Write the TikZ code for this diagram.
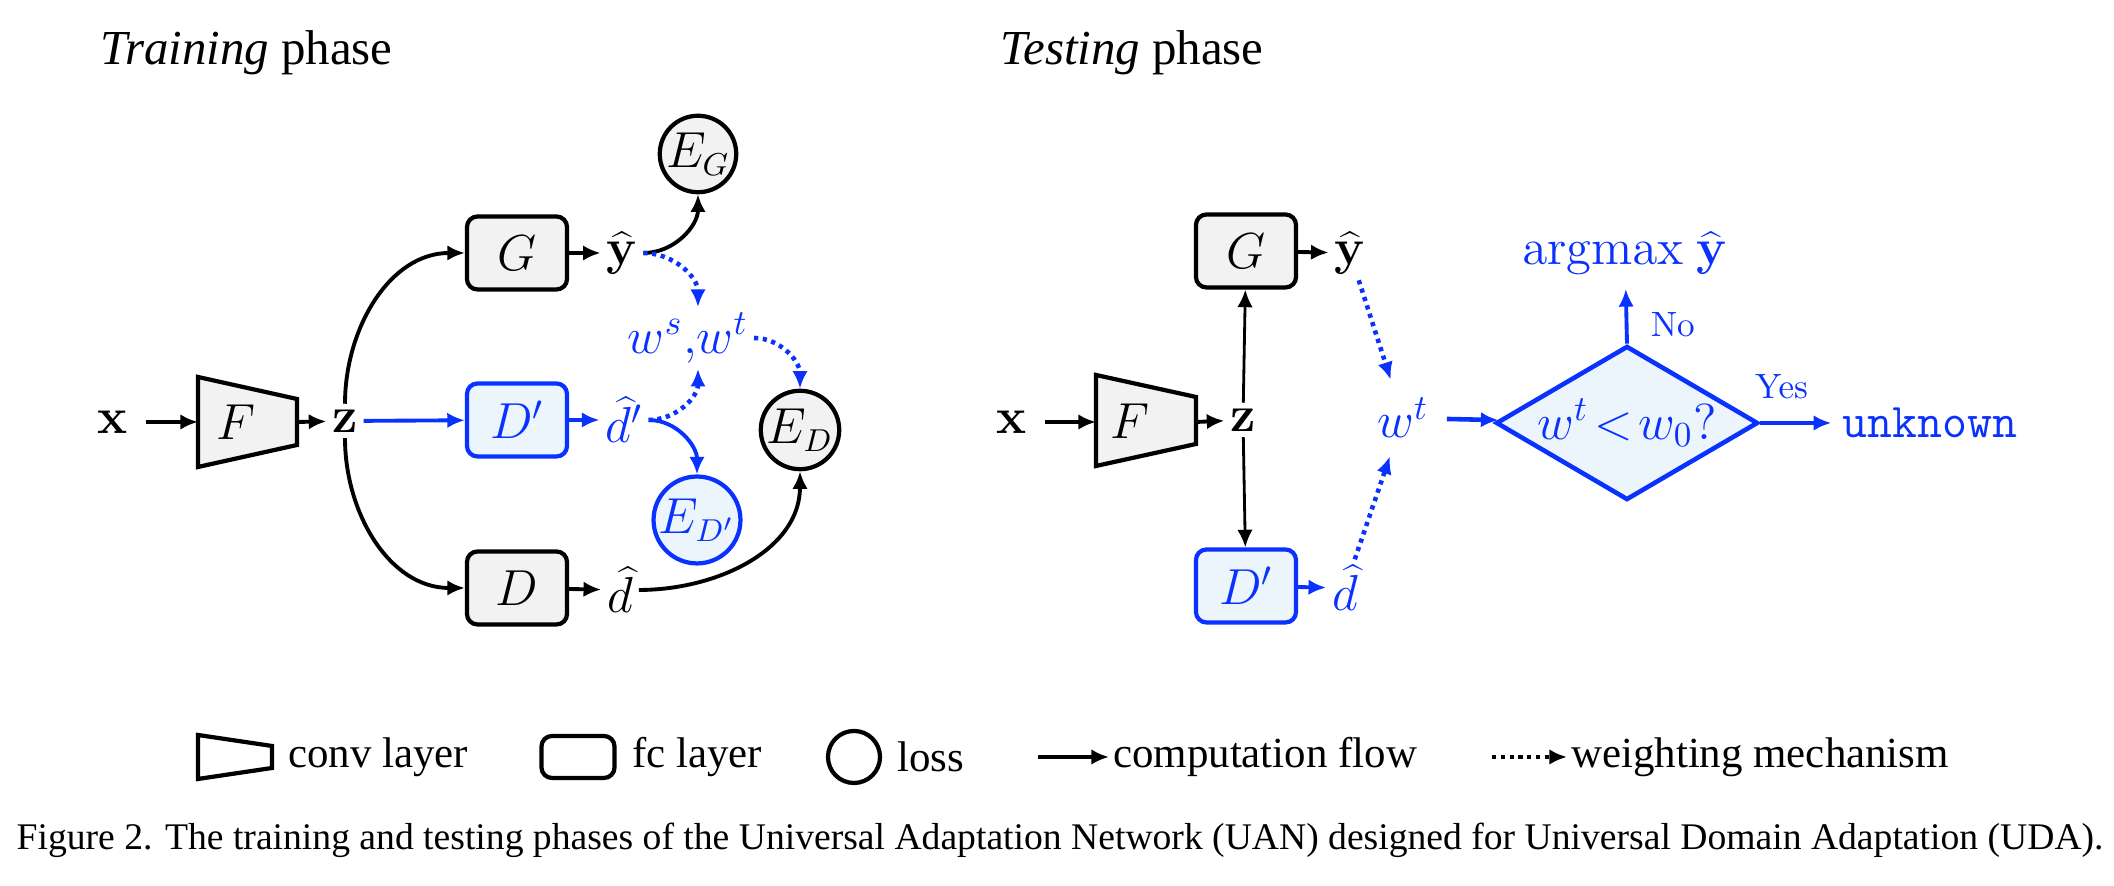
\documentclass[tikz,border=0pt]{standalone}
\usepackage[no-math]{fontspec}
\setmainfont{Liberation Serif}
\usepackage{tikz}
\usetikzlibrary{arrows.meta,shapes.geometric}

\definecolor{uanblue}{RGB}{10,50,255}
\definecolor{uanfill}{RGB}{236,244,252}
\definecolor{layerfill}{RGB}{242,242,242}

\begin{document}
\begin{tikzpicture}[x=0.01cm, y=0.01cm,
  fc/.style={draw, rounded corners=3pt, line width=1.2pt, fill=layerfill,
    minimum width=1cm, minimum height=0.73cm, font=\fontsize{14}{16}\selectfont},
  fcblue/.style={fc, draw=uanblue, fill=uanfill, text=uanblue},
  loss/.style={draw, circle, line width=1.2pt, fill=layerfill, minimum size=0.72cm,
    inner sep=0pt, font=\fontsize{13.5}{15}\selectfont},
  lossblue/.style={loss, draw=uanblue, fill=uanfill, text=uanblue},
  conv/.style={draw, line width=1.2pt, fill=layerfill},
  var/.style={inner sep=1.5pt, font=\fontsize{14}{16}\selectfont},
  varblue/.style={var, text=uanblue},
  flow/.style={-{Latex[length=5pt,width=4.4pt]}, line width=1.1pt},
  thinflow/.style={flow, line width=0.8pt},
  flowblue/.style={flow, draw=uanblue},
  wflow/.style={-{Latex[length=5pt,width=4.4pt]}, draw=uanblue,
    line width=1.3pt, dash pattern=on 1.2pt off 1.3pt},
  lgtext/.style={anchor=west, inner sep=1pt, font=\fontsize{12.2}{14}\selectfont},
  title/.style={anchor=base west, inner sep=0pt, font=\fontsize{13.9}{16}\selectfont},
]
\useasboundingbox (0,0) rectangle (2114,886);

% titles
\node[title] (ttrain) at (100,821) {\textit{Training} phase};
\node[title] (ttest) at (1000,821) {\textit{Testing} phase};

% training phase
\draw[conv] (198,509) -- (297,487) -- (297,441) -- (198,419) -- cycle;
\node[var] (F1) at (236,464) {$F$};
\coordinate (F1in) at (198,464);
\coordinate (F1out) at (297,464);
\node[var, inner sep=5pt] (x1) at (113,464) {$\mathbf{x}$};
\node[var] (z1) at (345,465) {$\mathbf{z}$};
\node[fc] (G1) at (517,633) {$G$};
\node[fcblue] (Dp1) at (517,466) {$D'$};
\node[fc] (D1) at (517,298) {$D$};
\node[var] (y1) at (622,633) {$\widehat{\mathbf{y}}$};
\node[varblue] (d1p) at (624,466) {$\widehat{d}'$};
\node[var] (d1) at (620,296) {$\widehat{d}$};
\node[loss] (EG) at (698,732) {$E_G$};
\node[varblue] (w1) at (688,548) {$w^s{,}w^t$};
\node[loss] (ED) at (800,456) {$E_D$};
\node[lossblue] (EDp) at (697,366) {$E_{D'}$};

\draw[flow] (x1) -- (F1in);
\draw[flow] (F1out) -- (z1);
\draw[flow] (z1.north) to[out=90, in=180] (G1.west);
\draw[flow] (z1.south) to[out=-90, in=180] (D1.west);
\draw[flowblue] (z1) -- (Dp1);
\draw[flow] (G1) -- (y1);
\draw[flowblue] (Dp1) -- (d1p);
\draw[flow] (D1) -- (d1);
\draw[flow] (y1.east) to[out=0, in=-90] (EG.south);
\draw[wflow] (y1.east) to[out=0, in=90] (w1.north -| EG.south);
\draw[wflow] (d1p.east) to[out=0, in=-90] (w1.south -| EG.north);
\draw[flowblue] (d1p.east) to[out=0, in=90] (EDp.north);
\draw[wflow] (w1.east) to[out=0, in=90] (ED.north);
\draw[flow] (d1.east) to[out=0, in=-90] (ED.south);

% testing phase
\draw[conv] (1096,511) -- (1196,489) -- (1196,442) -- (1096,420) -- cycle;
\node[var] (F2) at (1130,465) {$F$};
\coordinate (F2in) at (1096,464);
\coordinate (F2out) at (1196,464);
\node[var, inner sep=5pt] (x2) at (1012,464) {$\mathbf{x}$};
\node[var] (z2) at (1243,466) {$\mathbf{z}$};
\node[fc] (G2) at (1246,635) {$G$};
\node[fcblue] (Dp2) at (1246,300) {$D'$};
\node[var] (y2) at (1350,633) {$\widehat{\mathbf{y}}$};
\node[varblue] (d2) at (1345,298) {$\widehat{d}$};
\node[varblue, inner sep=5pt] (w2) at (1403,468) {$w^t$};
\node[draw=uanblue, fill=uanfill, text=uanblue, diamond, aspect=1.7, line width=1.3pt,
  minimum width=2.62cm, minimum height=1.54cm, inner sep=0pt,
  font=\fontsize{14}{16}\selectfont] (dia) at (1627,463) {$w^t\!<\!w_0?$};
\node[varblue, inner sep=4pt] (am) at (1625,633) {$\mathrm{argmax}\ \widehat{\mathbf{y}}$};
\node[varblue, inner sep=3pt, font=\fontsize{13.8}{16}\selectfont] (unk) at (1930,463) {\texttt{unknown}};

\draw[flow] (x2) -- (F2in);
\draw[flow] (F2out) -- (z2);
\draw[thinflow] (z2) -- (G2);
\draw[thinflow] (z2) -- (Dp2);
\draw[flow] (G2) -- (y2);
\draw[flowblue] (Dp2) -- (d2);
\draw[wflow] (y2) -- (w2);
\draw[wflow] (d2) -- (w2);
\draw[flowblue, line width=1.3pt] (w2) -- (dia);
\draw[flowblue] (dia.north) -- node[pos=0.35, right=3pt, text=uanblue, font=\fontsize{10}{12}\selectfont] (no) {$\mathrm{No}$} (am);
\draw[flowblue] (dia.east) -- node[pos=0.3, above=3pt, text=uanblue, font=\fontsize{10}{12}\selectfont] (yes) {$\mathrm{Yes}$} (unk);

% legend
\draw[conv, fill=none] (198,151) -- (272,140) -- (272,118) -- (198,107) -- cycle;
\node[lgtext] (lgconv) at (284,129) {conv layer};
\node[fc, fill=none, minimum width=0.73cm, minimum height=0.42cm] (lgfc) at (578,129) {};
\node[lgtext] (lgfctxt) at (628,129) {fc layer};
\node[loss, fill=none, minimum size=0.52cm] (lgloss) at (854,129) {};
\node[lgtext] (lglosstxt) at (893,129) {loss};
\coordinate (lgflow) at (1038,129);
\node[lgtext] (lgflowtxt) at (1109,129) {computation flow};
\draw[flow] (lgflow) -- (lgflowtxt.west);
\coordinate (lgw) at (1492,129);
\node[lgtext] (lgwtxt) at (1567,129) {weighting mechanism};
\draw[wflow, draw=black] (lgw) -- (lgwtxt.west);

% caption
\node[anchor=west, inner sep=0pt, font=\fontsize{10.7}{12}\selectfont] (cap) at (16,46)
  {Figure 2. The training and testing phases of the Universal Adaptation Network (UAN) designed for Universal Domain Adaptation (UDA).};
\end{tikzpicture}
\end{document}
